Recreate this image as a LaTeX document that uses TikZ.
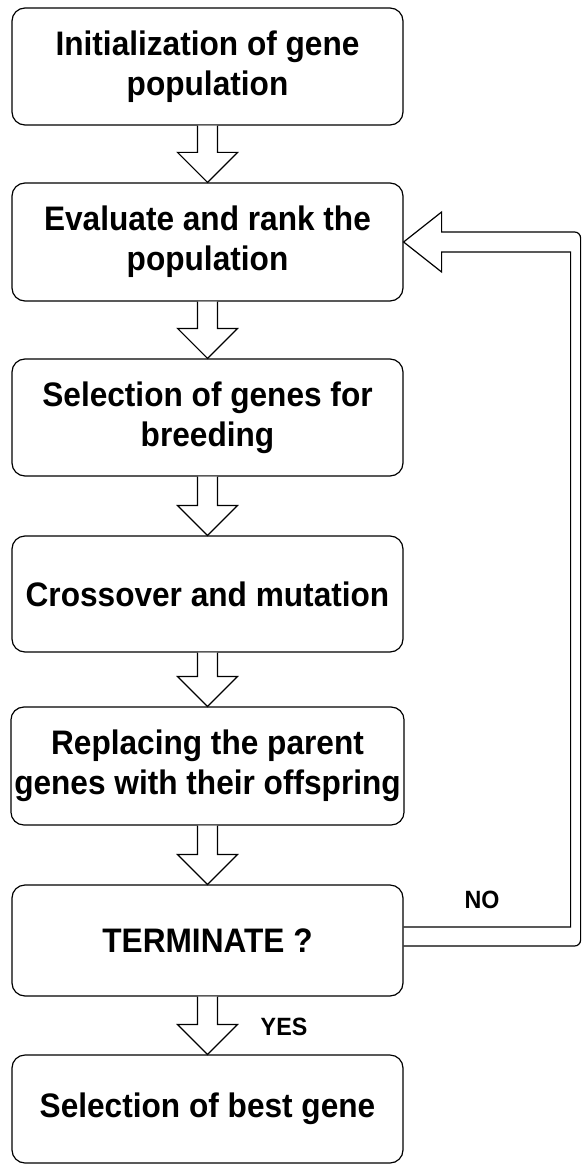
\documentclass[tikz,border=0pt]{standalone}
\usepackage{fontspec}
\setmainfont[FakeStretch=0.93]{Liberation Sans}
\usetikzlibrary{calc}

\tikzset{every picture/.style={line width=1.2pt}}

\newcommand{\fatarrow}[2]{%
\draw [fill=white] ($(#1.south)+(-10,0)$) -- ($(#2.north)+(-10,-30)$) -- ($(#2.north)+(-30,-30)$) -- (#2.north) -- ($(#2.north)+(30,-30)$) -- ($(#2.north)+(10,-30)$) -- ($(#1.south)+(10,0)$) ;}

\begin{document}
\begin{tikzpicture}[x=1pt,y=1pt,yscale=-1,xscale=1,
  stage/.style={draw, rounded corners=13, minimum width=391, align=center,
    font=\fontsize{34}{40}\selectfont\bfseries},
  tag/.style={font=\fontsize{25}{30}\selectfont\bfseries}]
\useasboundingbox (0,0) rectangle (581,1169);

%Rounded Rect
\node [stage, minimum height=117] (init) at (207.5,66.5) {Initialization of gene\\population};
%Rounded Rect
\node [stage, minimum height=118] (eval) at (207.5,242) {Evaluate and rank the\\population};
%Rounded Rect
\node [stage, minimum height=117] (select) at (207.5,417.5) {Selection of genes for\\breeding};
%Rounded Rect
\node [stage, minimum height=116] (cross) at (207.5,594) {Crossover and mutation};
%Rounded Rect
\node [stage, minimum height=118] (replace) at (207.5,766) {Replacing the parent\\genes with their offspring};
%Rounded Rect
\node [stage, minimum height=111] (term) at (207.5,940.5) {TERMINATE ?};
%Rounded Rect
\node [stage, minimum height=108] (best) at (207.5,1109) {Selection of best gene};

%Block Arrows
\fatarrow{init}{eval}
\fatarrow{eval}{select}
\fatarrow{select}{cross}
\fatarrow{cross}{replace}
\fatarrow{replace}{term}
\fatarrow{term}{best}

%Loop back [outer line with head]
\draw  ($(term.east)+(0,5.5)$) [rounded corners=6] -- ($(term.east)+(177,5.5)$) -- ($(eval.east)+(177,-10)$) [sharp corners] -- ($(eval.east)+(38,-10)$) -- ($(eval.east)+(38,-30)$) -- (eval.east) -- ($(eval.east)+(38,30)$) -- ($(eval.east)+(38,10)$) -- ($(eval.east)+(167,10)$) -- ($(term.east)+(167,-13.5)$) -- ($(term.east)+(0,-13.5)$) ;

% Text Node
\node [tag] (no) at (482,900) {NO};
% Text Node
\node [tag] (yes) at (284,1027) {YES};

\end{tikzpicture}
\end{document}
